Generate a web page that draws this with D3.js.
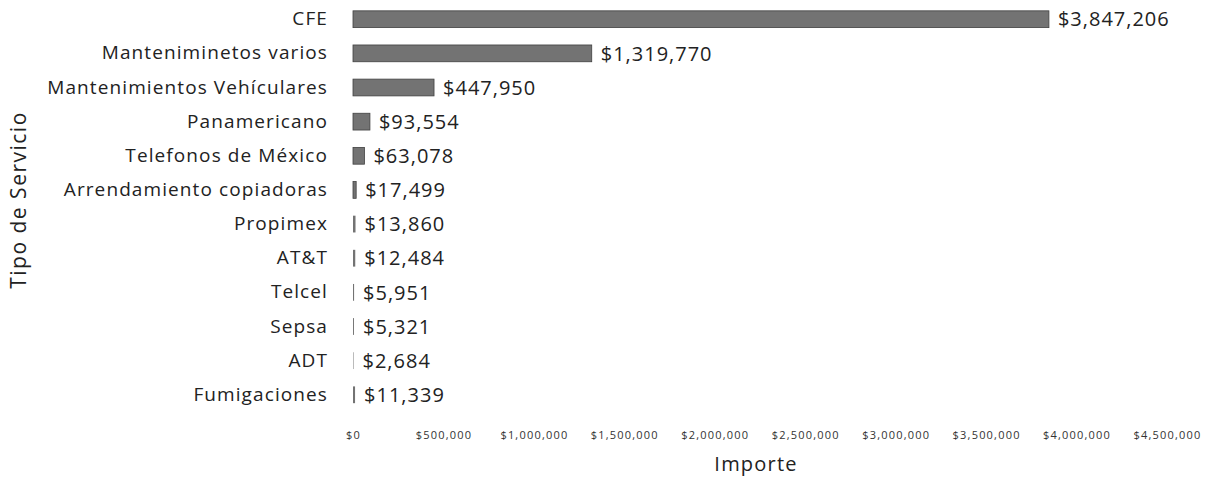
<!DOCTYPE html>
<html lang="es">
<head>
<meta charset="utf-8">
<title>Importe por tipo de servicio</title>
<script src="https://d3js.org/d3.v7.min.js"></script>
<style>
  body { margin: 0; background: #fff; }
  svg text { font-family: "Open Sans", sans-serif; }
</style>
</head>
<body>
<script>
// data
var servicios = ["CFE", "Manteniminetos varios", "Mantenimientos Vehículares", "Panamericano",
  "Telefonos de México", "Arrendamiento copiadoras", "Propimex", "AT&T", "Telcel",
  "Sepsa", "ADT", "Fumigaciones"];
var importes = [3847206, 1319770, 447950, 93554, 63078, 17499, 13860, 12484, 5951, 5321, 2684, 11339];
var ticks = [0, 500000, 1000000, 1500000, 2000000, 2500000, 3000000, 3500000, 4000000, 4500000];

var w = 1215, h = 477;

var svg = d3.select("body").append("svg")
  .attr("width", w)
  .attr("height", h);

var xScale = d3.scaleLinear()
  .domain([0, 4500000])
  .range([353, 1167]);

var yScale = d3.scaleBand()
  .domain(servicios)
  .range([3, 411])
  .paddingInner(0.45)
  .paddingOuter(0.2);

var money = d3.format("$,");

// bars
svg.append("g")
  .selectAll("rect")
  .data(importes)
  .enter()
  .append("rect")
  .attr("x", xScale(0))
  .attr("y", (d, i) => yScale(servicios[i]) + 1)
  .attr("width", d => xScale(d) - xScale(0))
  .attr("height", yScale.bandwidth() - 2)
  .attr("fill", "#737373")
  .attr("stroke", "#404040")
  .attr("stroke-width", d => xScale(d) - xScale(0) > 3 ? 0.8 : 0);

// value labels
svg.append("g")
  .selectAll("text")
  .data(importes)
  .enter()
  .append("text")
  .attr("x", d => xScale(d) + 9)
  .attr("y", (d, i) => yScale(servicios[i]) + yScale.bandwidth() / 2)
  .attr("dy", "0.36em")
  .attr("font-size", 20)
  .attr("letter-spacing", 1)
  .attr("fill", "#222")
  .text(d => money(d));

// category axis
var yAxis = d3.axisLeft(yScale).tickSize(0).tickPadding(25);
var gy = svg.append("g")
  .attr("transform", "translate(" + xScale(0) + ",0)")
  .call(yAxis);
gy.select(".domain").remove();
gy.selectAll("text")
  .attr("font-family", "'Open Sans', sans-serif")
  .attr("font-size", 19)
  .attr("letter-spacing", 1.1)
  .attr("fill", "#222");

// value axis
var xAxis = d3.axisBottom(xScale)
  .tickValues(ticks)
  .tickSize(0)
  .tickPadding(0)
  .tickFormat(d => money(d));
var gx = svg.append("g")
  .attr("transform", "translate(0,431)")
  .call(xAxis);
gx.select(".domain").remove();
gx.selectAll("text")
  .attr("font-family", "'Open Sans', sans-serif")
  .attr("font-size", 11)
  .attr("letter-spacing", 1.2)
  .attr("fill", "#333");

// axis titles
svg.append("text")
  .attr("x", 756)
  .attr("y", 471)
  .attr("text-anchor", "middle")
  .attr("font-size", 20)
  .attr("letter-spacing", 1.2)
  .attr("fill", "#222")
  .text("Importe");

svg.append("text")
  .attr("transform", "translate(26,200) rotate(-90)")
  .attr("text-anchor", "middle")
  .attr("font-size", 21)
  .attr("letter-spacing", 1.5)
  .attr("fill", "#222")
  .text("Tipo de Servicio");
</script>
</body>
</html>
